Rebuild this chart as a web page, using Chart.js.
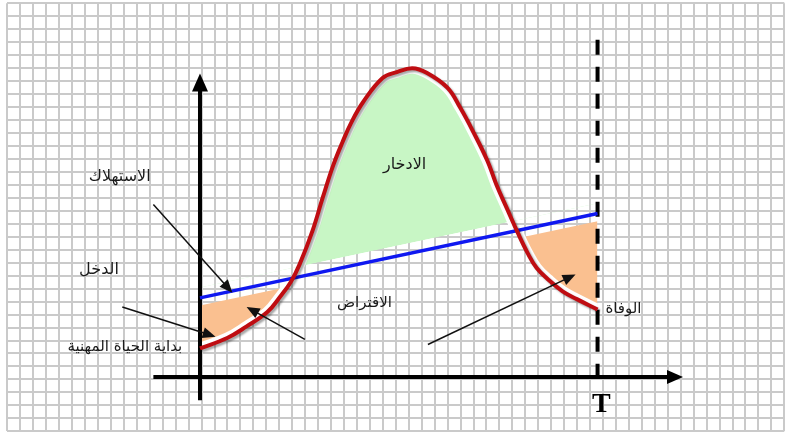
<!DOCTYPE html>
<html lang="ar">
<head>
<meta charset="utf-8">
<title>الدخل والاستهلاك خلال الحياة</title>
<script src="https://cdn.jsdelivr.net/npm/chart.js@4.4.1/dist/chart.umd.min.js"></script>
<style>
  html, body { margin: 0; padding: 0; background: #fff; }
  canvas { display: block; }
</style>
</head>
<body>
<canvas id="lifeCycle" width="786" height="433"></canvas>
<script>
// units = one square of the grid, origin where the two axes cross
const deathAge = 30.7; // T

// income curve (red)
const incomeAge = [0, 2.1, 3.6, 5.2, 6.2, 7.0, 7.7, 8.7, 9.5, 10.3, 11.0, 11.7, 12.6, 14.1, 15.2, 16.4, 17.5, 19.1, 20.1, 21.1, 22.2, 22.9, 23.7, 24.5, 25.3, 26.0, 26.9, 28.0, 29.1, 30.7];
const income    = [2.2, 3.0, 3.9, 5.0, 6.2, 7.3, 8.7, 11.3, 13.9, 16.35, 18.1, 19.65, 21.2, 23.05, 23.5, 23.8, 23.45, 22.3, 20.75, 18.9, 16.65, 14.8, 13.0, 11.2, 9.55, 8.4, 7.5, 6.6, 6.0, 5.2];

// consumption line (blue) and the edges of the shaded areas
const lineAge       = [0, deathAge];
const consumption   = [6.1, 12.6];
const savingsEdge   = [6.9, 13.4];  // bottom of the green area
const borrowingEdge = [5.5, 12.0];  // top of the orange areas

// axes
const yAxisSpan = [-1.8, 23.4];
const xAxisSpan = [-3.6, 37.3];
const deathSpan = [-0.6, 26.0];

// pointer arrows: tail -> head
const arrowFromX = [-3.6, -6.0, 8.1, 17.6];
const arrowFromY = [13.3, 5.4, 2.9, 2.5];
const arrowToX   = [2.5, 1.2, 3.6, 29.0];
const arrowToY   = [6.5, 3.1, 5.4, 7.9];

// text
const textLabels = ['الاستهلاك', 'الدخل', 'بداية الحياة المهنية', 'الادخار', 'الاقتراض', 'الوفاة'];
const textX      = [-6.2, -7.8, -5.8, 15.8, 12.7, 32.7];
const textY      = [15.4, 8.25, 2.3, 16.35, 5.7, 5.2];
const textSize   = [16, 16, 15, 16, 15, 15];

// grid
const gridLeft = -14.88, gridCols = 60;
const gridBottom = -4.19, gridRows = 33;

const pts = (xs, ys) => xs.map((x, i) => ({ x: x, y: ys[i] }));

const greenFill = '#c8f6c5';
const orangeFill = '#fac090';
const clear = 'rgba(0,0,0,0)';

function arrowHead(ctx, x0, y0, x1, y1, len, half) {
  const a = Math.atan2(y1 - y0, x1 - x0);
  ctx.beginPath();
  ctx.moveTo(x1, y1);
  ctx.lineTo(x1 - len * Math.cos(a) + half * Math.sin(a), y1 - len * Math.sin(a) - half * Math.cos(a));
  ctx.lineTo(x1 - len * Math.cos(a) - half * Math.sin(a), y1 - len * Math.sin(a) + half * Math.cos(a));
  ctx.closePath();
  ctx.fill();
}

const decorations = {
  id: 'decorations',
  beforeDatasetDraw(chart, args) {
    const ctx = chart.ctx;
    if (args.index === 0) {
      // soft shadow under the income curve
      ctx.save();
      ctx.shadowColor = 'rgba(0,0,0,0.35)';
      ctx.shadowOffsetX = 2;
      ctx.shadowOffsetY = 2;
      ctx.shadowBlur = 2;
    } else if (args.index === 7) {
      // white gap between the shaded areas and the income curve,
      // kept inside the space between income and consumption
      const sx = chart.scales.x, sy = chart.scales.y;
      ctx.save();
      ctx.beginPath();
      chart.getDatasetMeta(0).dataset.path(ctx);
      ctx.lineTo(sx.getPixelForValue(lineAge[1]), sy.getPixelForValue(consumption[1]));
      ctx.lineTo(sx.getPixelForValue(lineAge[0]), sy.getPixelForValue(consumption[0]));
      ctx.closePath();
      ctx.clip('evenodd');
    }
  },
  afterDatasetDraw(chart, args) {
    if (args.index === 0 || args.index === 7) chart.ctx.restore();
  },
  afterDatasetsDraw(chart) {
    const ctx = chart.ctx;
    const sx = chart.scales.x, sy = chart.scales.y;
    ctx.save();
    ctx.fillStyle = '#000';
    // axis arrow heads
    arrowHead(ctx, sx.getPixelForValue(0), sy.getPixelForValue(0),
      sx.getPixelForValue(0), sy.getPixelForValue(yAxisSpan[1]), 18, 8);
    arrowHead(ctx, sx.getPixelForValue(0), sy.getPixelForValue(0),
      sx.getPixelForValue(xAxisSpan[1]), sy.getPixelForValue(0), 16, 7);

    // pointers
    ctx.strokeStyle = '#111';
    ctx.lineWidth = 1.5;
    ctx.fillStyle = '#111';
    arrowFromX.forEach((fx, i) => {
      const x0 = sx.getPixelForValue(fx), y0 = sy.getPixelForValue(arrowFromY[i]);
      const x1 = sx.getPixelForValue(arrowToX[i]), y1 = sy.getPixelForValue(arrowToY[i]);
      const a = Math.atan2(y1 - y0, x1 - x0);
      ctx.beginPath();
      ctx.moveTo(x0, y0);
      ctx.lineTo(x1 - 8 * Math.cos(a), y1 - 8 * Math.sin(a));
      ctx.stroke();
      arrowHead(ctx, x0, y0, x1, y1, 13, 5.5);
    });

    // labels
    ctx.fillStyle = '#1a1a1a';
    ctx.textAlign = 'center';
    ctx.textBaseline = 'middle';
    ctx.direction = 'rtl';
    textLabels.forEach((t, i) => {
      ctx.font = textSize[i] + 'px "DejaVu Sans"';
      ctx.fillText(t, sx.getPixelForValue(textX[i]), sy.getPixelForValue(textY[i]));
    });
    ctx.direction = 'ltr';
    ctx.fillStyle = '#000';
    ctx.textBaseline = 'alphabetic';
    ctx.font = 'bold 28px "Liberation Serif"';
    ctx.fillText('T', sx.getPixelForValue(deathAge + 0.3), sy.getPixelForValue(-2.7));
    ctx.restore();
  }
};

function gridTicks(start, count) {
  const out = [];
  for (let k = 0; k <= count; k++) out.push({ value: start + k });
  return out;
}

new Chart(document.getElementById('lifeCycle'), {
  type: 'line',
  data: {
    datasets: [
      {
        label: 'الدخل',
        data: pts(incomeAge, income),
        borderColor: '#bf0d12',
        borderWidth: 4,
        tension: 0.4,
        fill: { target: 2, above: greenFill, below: clear },
        order: 0
      },
      {
        label: 'الاستهلاك',
        data: pts(lineAge, consumption),
        borderColor: '#0f18f0',
        borderWidth: 3.5,
        order: 1
      },
      {
        label: 'savings edge',
        data: pts(lineAge, savingsEdge),
        borderWidth: 0,
        borderColor: clear,
        order: 6
      },
      {
        label: 'borrowing edge',
        data: pts(lineAge, borrowingEdge),
        borderWidth: 0,
        borderColor: clear,
        fill: { target: 0, above: orangeFill, below: clear },
        order: 6
      },
      {
        label: 'y axis',
        data: pts([0, 0], [yAxisSpan[0], yAxisSpan[1] - 1.2]),
        borderColor: '#000',
        borderWidth: 4,
        order: 2
      },
      {
        label: 'x axis',
        data: pts([xAxisSpan[0], xAxisSpan[1] - 1.1], [0, 0]),
        borderColor: '#000',
        borderWidth: 4,
        order: 2
      },
      {
        label: 'T',
        data: pts([deathAge, deathAge], [deathSpan[1], deathSpan[0]]),
        borderColor: '#000',
        borderWidth: 4,
        borderDash: [15, 12],
        order: 7
      },
      {
        label: 'gap',
        data: pts(incomeAge, income),
        borderColor: '#fff',
        borderWidth: 11,
        tension: 0.4,
        order: 3
      }
    ]
  },
  options: {
    responsive: false,
    animation: false,
    events: [],
    layout: { padding: { left: 7.3, right: 1.7, top: 3.3, bottom: 1.7 } },
    elements: { point: { radius: 0 }, line: { borderCapStyle: 'butt' } },
    plugins: {
      legend: { display: false },
      tooltip: { enabled: false },
      filler: { drawTime: 'beforeDatasetsDraw' }
    },
    scales: {
      x: {
        type: 'linear',
        min: gridLeft,
        max: gridLeft + gridCols,
        afterBuildTicks: axis => { axis.ticks = gridTicks(gridLeft, gridCols); },
        ticks: { display: false },
        border: { display: false },
        grid: { color: '#cacaca', lineWidth: 2, drawTicks: false }
      },
      y: {
        type: 'linear',
        min: gridBottom,
        max: gridBottom + gridRows,
        afterBuildTicks: axis => { axis.ticks = gridTicks(gridBottom, gridRows); },
        ticks: { display: false },
        border: { display: false },
        grid: { color: '#cacaca', lineWidth: 2, drawTicks: false }
      }
    }
  },
  plugins: [decorations]
});
</script>
</body>
</html>
